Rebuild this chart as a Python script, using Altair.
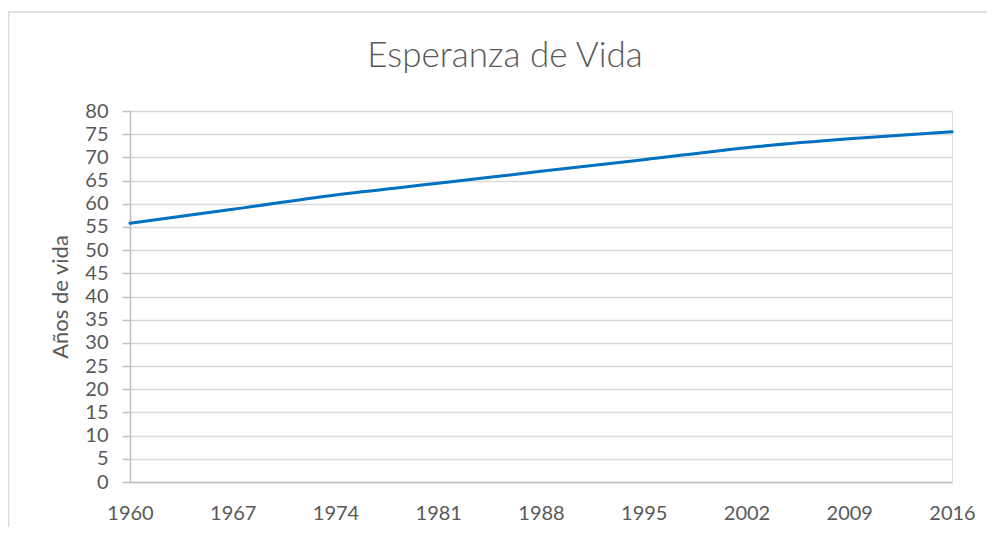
import altair as alt
import pandas as pd

title_text = "Esperanza de Vida"
y_title = "Años de vida"

years = [1960, 1967, 1974, 1981, 1988, 1995, 2002, 2009, 2016]
life = [55.8, 58.8, 61.9, 64.4, 67.0, 69.5, 72.1, 74.0, 75.5]
x_ticks = [1960, 1967, 1974, 1981, 1988, 1995, 2002, 2009, 2016]
y_ticks = list(range(0, 85, 5))

df = pd.DataFrame({"year": years, "life": life})

W, H = 822, 371
FONT = "Lato"
GREY = "#595959"

frame = alt.Chart(pd.DataFrame({"a": [0]})).mark_rect(
    fill="white", fillOpacity=0, stroke="#d9d9d9", strokeWidth=1.5
).encode(
    x=alt.value(-121.5), y=alt.value(-99), x2=alt.value(W + 300), y2=alt.value(H + 300)
)

line = alt.Chart(df).mark_line(color="#0070C0", strokeWidth=3, strokeCap="round",
                               interpolate="monotone").encode(
    x=alt.X("year:Q",
            scale=alt.Scale(domain=[1960, 2016], nice=False, zero=False),
            axis=alt.Axis(values=x_ticks, format="d", title=None, grid=False,
                          ticks=False, labelPadding=21, labelFontSize=20,
                          labelColor=GREY, labelFont=FONT, domainColor="#bfbfbf",
                          domainWidth=1.5, labelFlush=False)),
    y=alt.Y("life:Q",
            scale=alt.Scale(domain=[0, 80], nice=False),
            axis=alt.Axis(values=y_ticks, title=y_title, grid=True,
                          gridColor="#d9d9d9", gridWidth=1.5,
                          domainColor="#bfbfbf", domainWidth=1.5,
                          tickColor="#bfbfbf", tickSize=8, tickWidth=1.5,
                          labelPadding=14, labelFontSize=20, labelColor=GREY,
                          labelFont=FONT, titleFont=FONT, titleFontSize=22,
                          titleFontWeight="normal", titleColor=GREY,
                          titlePadding=12))
)

title = alt.Chart(pd.DataFrame({"t": [title_text]})).mark_text(
    font=FONT, fontSize=35, fontWeight=300, color=GREY, baseline="alphabetic", align="center"
).encode(
    text="t:N", x=alt.value(375), y=alt.value(-44)
)

chart = alt.layer(frame, line, title).properties(
    width=W, height=H,
    padding={"left": 122, "top": 103, "right": 35, "bottom": 45},
    autosize="none",
).configure_view(stroke=None).configure(background="white")

chart.save("out.html", embed_options={"renderer": "svg", "actions": False})
